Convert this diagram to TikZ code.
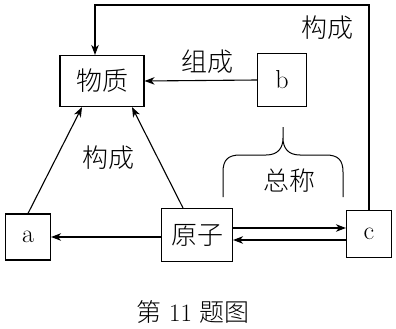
\documentclass[tikz,border=0pt]{standalone}
\usepackage{fontspec}
\newfontfamily\cjk{Noto Sans CJK SC}[UprightFont=* Light]
\usetikzlibrary{arrows.meta,calc}
\begin{document}
\begin{tikzpicture}[x=1pt,y=-1pt,
  line width=1.1pt,
  box/.style={draw,inner sep=0pt,font=\fontsize{26}{30}\selectfont},
  lbl/.style={inner sep=0pt,font=\fontsize{26}{30}\selectfont\cjk},
  arr/.style={-{Stealth[length=10pt,width=7.5pt,inset=3pt]}}]
\useasboundingbox (0,0) rectangle (396,329);
\node[box,minimum width=84pt,minimum height=51pt,font=\fontsize{26}{30}\selectfont\cjk] (wz) at (102,81) {物质};
\node[box,minimum width=49pt,minimum height=53pt] (b) at (282,80) {b};
\node[box,minimum width=45pt,minimum height=46pt] (a) at (28,237) {a};
\node[box,minimum width=71pt,minimum height=53pt,font=\fontsize{26}{30}\selectfont\cjk] (yz) at (197,235) {原子};
\node[box,minimum width=45pt,minimum height=47pt] (c) at (369,234) {c};
\node[lbl] (l1) at (327,28) {构成};
\node[lbl] (l2) at (207,62) {组成};
\node[lbl] (l3) at (108,158) {构成};
\node[lbl] (l4) at (289,181) {总称};
\node[inner sep=0pt,font=\fontsize{25}{30}\selectfont] (cap) at (193,312) {{\cjk 第} 11 {\cjk 题图}};
\coordinate (tl) at (95,5);
\draw[arr] (c.north) |- (tl) -- (tl |- wz.north);
\draw[arr] (b.west) -- (wz.east);
\draw[arr] (a.north) -- ($(wz.south)+(-20,0)$);
\draw[arr] ($(yz.north)+(-14,0)$) -- ($(wz.south)+(30,0)$);
\draw[arr] (yz.west |- a.east) -- (a.east);
\draw[arr] ($(yz.east)+(0,-7)$) -- ($(c.west)+(0,-6)$);
\draw[arr] ($(c.west)+(0,6)$) -- ($(yz.east)+(0,5)$);
\coordinate (br) at (283,127);
\draw[line width=1pt] (223,197) -- (223,172) .. controls (223,160) and (228,155) .. (240,155) -- (266,155) .. controls (278,155) and (283,148) .. (283,138) -- (br)
  (br) -- (283,138) .. controls (283,148) and (288,155) .. (300,155) -- (326,155) .. controls (338,155) and (343,160) .. (343,172) -- (343,197);
\end{tikzpicture}
\end{document}
